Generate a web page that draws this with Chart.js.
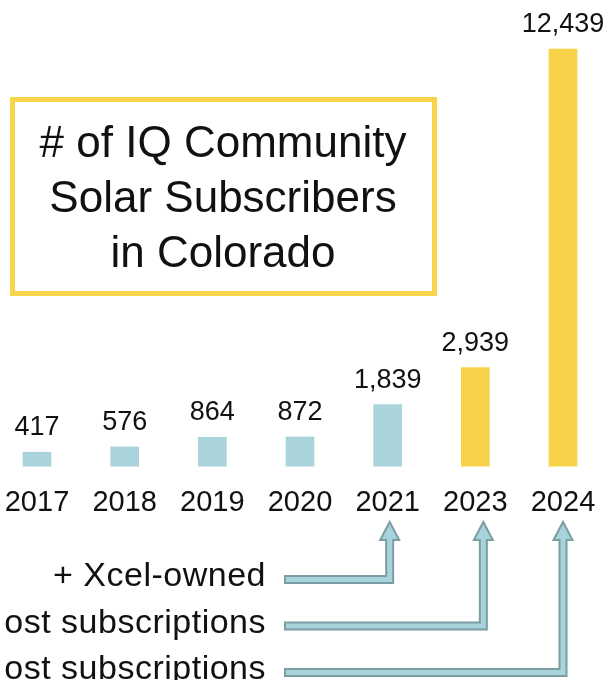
<!DOCTYPE html>
<html>
<head>
<meta charset="utf-8">
<script src="https://cdn.jsdelivr.net/npm/chart.js@4/dist/chart.umd.min.js"></script>
<style>
  html, body { margin: 0; padding: 0; background: #fff; }
  #wrap { width: 614px; height: 680px; position: relative; }
</style>
</head>
<body>
<div id="wrap"><canvas id="chart"></canvas></div>
<script>
const years = ['2017', '2018', '2019', '2020', '2021', '2023', '2024'];
const subscribers = [417, 576, 864, 872, 1839, 2939, 12439];
const highlightYears = ['2023', '2024'];
const titleLines = ['# of IQ Community', 'Solar Subscribers', 'in Colorado'];
const noteLabels = ['+ Xcel-owned', 'ost subscriptions', 'ost subscriptions'];
const noteYears = ['2021', '2023', '2024'];

const TEAL = '#aad4db';
const GOLD = '#f8d349';
const FONT = '"Liberation Sans", Arial, sans-serif';

const barColors = years.map(y => highlightYears.includes(y) ? GOLD : TEAL);

function drawArrow(ctx, x, y, left, tipY) {
  const s = 3.5, h = 9.5, headLen = 18;
  ctx.beginPath();
  ctx.moveTo(left, y - s);
  ctx.lineTo(x - s, y - s);
  ctx.lineTo(x - s, tipY + headLen);
  ctx.lineTo(x - h, tipY + headLen);
  ctx.lineTo(x, tipY);
  ctx.lineTo(x + h, tipY + headLen);
  ctx.lineTo(x + s, tipY + headLen);
  ctx.lineTo(x + s, y + s);
  ctx.lineTo(left, y + s);
  ctx.closePath();
  ctx.fillStyle = '#a8d3da';
  ctx.fill();
  ctx.lineWidth = 2;
  ctx.strokeStyle = '#7b9ea3';
  ctx.stroke();
}

const decor = {
  id: 'decor',
  afterDatasetsDraw(chart) {
    const ctx = chart.ctx;
    const meta = chart.getDatasetMeta(0);
    ctx.save();
    ctx.fillStyle = '#111';
    ctx.font = '27px ' + FONT;
    ctx.textAlign = 'center';
    ctx.textBaseline = 'alphabetic';
    meta.data.forEach((bar, i) => {
      ctx.fillText(subscribers[i].toLocaleString('en-US'), bar.x, bar.y - 17);
    });
    ctx.restore();
  },
  afterDraw(chart) {
    const ctx = chart.ctx;
    const xs = chart.scales.x;
    ctx.save();

    // title box
    ctx.strokeStyle = '#f8d44a';
    ctx.lineWidth = 5;
    ctx.strokeRect(12.5, 99.5, 422, 194);
    ctx.fillStyle = '#111';
    ctx.font = '44px ' + FONT;
    ctx.textAlign = 'center';
    ctx.textBaseline = 'alphabetic';
    titleLines.forEach((t, i) => ctx.fillText(t, 223, 157 + i * 55));

    // arrows and notes
    const arrowShift = [2, 8, 0];
    ctx.font = '34px ' + FONT;
    ctx.textAlign = 'right';
    ctx.letterSpacing = '0.5px';
    noteLabels.forEach((t, i) => {
      const x = xs.getPixelForValue(years.indexOf(noteYears[i])) + arrowShift[i];
      const y = 579.5 + i * 46.5;
      drawArrow(ctx, x, y, 285, 522);
      ctx.fillStyle = '#111';
      ctx.fillText(t, 266, y + 6.5);
    });
    ctx.restore();
  }
};

new Chart(document.getElementById('chart'), {
  type: 'bar',
  data: {
    labels: years,
    datasets: [{
      data: subscribers,
      backgroundColor: barColors,
      barThickness: 28,
      borderWidth: 0,
      clip: false
    }]
  },
  options: {
    responsive: true,
    maintainAspectRatio: false,
    animation: false,
    devicePixelRatio: 1,
    layout: { padding: { left: 37, right: 51, top: 49, bottom: 158 } },
    plugins: {
      legend: { display: false },
      tooltip: { enabled: false },
      title: { display: false }
    },
    scales: {
      x: {
        offset: false,
        grid: { display: false, drawTicks: true, tickLength: 17 },
        border: { display: false },
        ticks: {
          color: '#111',
          font: { family: FONT, size: 29 },
          padding: 2,
          maxRotation: 0,
          autoSkip: false
        }
      },
      y: {
        display: false,
        min: 0,
        max: 12439
      }
    }
  },
  plugins: [decor]
});
</script>
</body>
</html>
